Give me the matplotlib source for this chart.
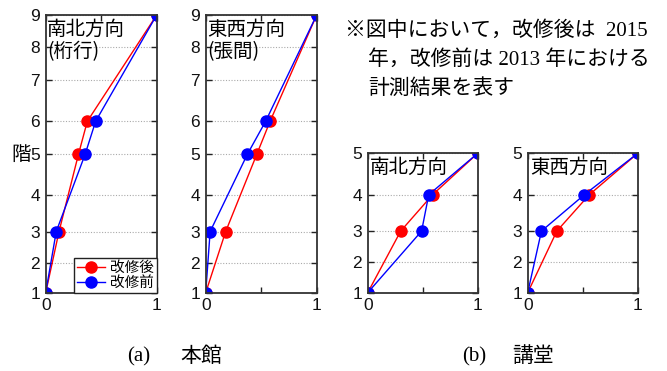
import matplotlib
matplotlib.use("Agg")
import matplotlib.pyplot as plt
from matplotlib.ticker import FixedLocator, FixedFormatter

plt.rcParams['font.family'] = ['Liberation Sans', 'Noto Sans CJK JP']

# Floor levels (m above 1F) of each building
main_floor_labels = ['1', '2', '3', '4', '5', '6', '7', '8', '9']
main_floor_height = [0.0, 3.0, 6.1, 9.7, 13.8, 17.1, 21.2, 24.5, 27.7]
hall_floor_labels = ['1', '2', '3', '4', '5']
hall_floor_height = [0.0, 3.0, 6.1, 9.7, 13.8]

# Normalised mode shapes: 本館 (measured at floors 1, 3, 5, 6, 9)
main_floors = [1, 3, 5, 6, 9]
main_ns_after = [0.0, 0.12, 0.295, 0.375, 1.0]
main_ns_before = [0.0, 0.095, 0.355, 0.45, 1.0]
main_ew_after = [0.0, 0.18, 0.46, 0.58, 1.0]
main_ew_before = [0.0, 0.04, 0.375, 0.54, 1.0]

# 講堂 (measured at floors 1, 3, 4, 5)
hall_floors = [1, 3, 4, 5]
hall_ns_after = [0.0, 0.30, 0.59, 1.0]
hall_ns_before = [0.0, 0.49, 0.555, 1.0]
hall_ew_after = [0.0, 0.265, 0.56, 1.0]
hall_ew_before = [0.0, 0.125, 0.515, 1.0]

label_after = '改修後'
label_before = '改修前'
cjk = ['Noto Sans CJK JP']
serif_cjk = ['Liberation Serif', 'Noto Sans CJK JP']

W, H = 667, 371
fig = plt.figure(figsize=(W / 100, H / 100), dpi=100)


def px_axes(x0, y_top, y_bot, w=111):
    return fig.add_axes([x0 / W, 1 - y_bot / H, w / W, (y_bot - y_top) / H])


def style(ax, heights, labels):
    ax.set_xlim(0, 1)
    ax.set_ylim(heights[0], heights[-1])
    ax.xaxis.set_major_locator(FixedLocator([0, 0.5, 1]))
    ax.xaxis.set_major_formatter(FixedFormatter(['0', '', '1']))
    ax.yaxis.set_major_locator(FixedLocator(heights))
    ax.yaxis.set_major_formatter(FixedFormatter(labels))
    ax.tick_params(direction='in', length=4, width=1, colors='#222222',
                   top=True, right=True, labelsize=12.5, pad=4)
    ax.tick_params(labelcolor='#111111')
    ax.grid(axis='y', linestyle=(0, (1, 1.5)), color='#aaaaaa', linewidth=0.8)
    for s in ax.spines.values():
        s.set_color('#333333')
        s.set_linewidth(1.3)


def draw(ax, floors, heights, after, before):
    y = [heights[f - 1] for f in floors]
    ax.plot(after, y, '-o', color='#ff0000', lw=1.0, ms=8, label=label_after)
    ax.plot(before, y, '-o', color='#0000ff', lw=1.0, ms=8, label=label_before)


ax1 = px_axes(45.7, 15, 292.7)
ax2 = px_axes(205.7, 15, 292.7)
ax3 = px_axes(367.7, 153.3, 292.7, 110)
ax4 = px_axes(527.7, 153.3, 292.7, 110)

draw(ax1, main_floors, main_floor_height, main_ns_after, main_ns_before)
draw(ax2, main_floors, main_floor_height, main_ew_after, main_ew_before)
draw(ax3, hall_floors, hall_floor_height, hall_ns_after, hall_ns_before)
draw(ax4, hall_floors, hall_floor_height, hall_ew_after, hall_ew_before)

for ax, hts, lbs in [(ax1, main_floor_height, main_floor_labels),
                     (ax2, main_floor_height, main_floor_labels),
                     (ax3, hall_floor_height, hall_floor_labels),
                     (ax4, hall_floor_height, hall_floor_labels)]:
    style(ax, hts, lbs)

# direction titles inside each panel
ax1.text(0.01, 0.985, '南北方向', transform=ax1.transAxes, ha='left', va='top',
         fontsize=14, family=cjk)
ax1.text(0.01, 0.905, '(桁行)', transform=ax1.transAxes, ha='left', va='top',
         fontsize=14, family=cjk)
ax2.text(0.01, 0.985, '東西方向', transform=ax2.transAxes, ha='left', va='top',
         fontsize=14, family=cjk)
ax2.text(0.01, 0.905, '(張間)', transform=ax2.transAxes, ha='left', va='top',
         fontsize=14, family=cjk)
ax3.text(0.02, 0.975, '南北方向', transform=ax3.transAxes, ha='left', va='top',
         fontsize=14, family=cjk)
ax4.text(0.02, 0.975, '東西方向', transform=ax4.transAxes, ha='left', va='top',
         fontsize=14, family=cjk)

leg = ax1.legend(loc='lower right', bbox_to_anchor=(1, 0), borderaxespad=0,
                 prop={'family': cjk, 'size': 10.5}, fancybox=False,
                 edgecolor='#222222', framealpha=1, handlelength=1.9,
                 handletextpad=0.35, borderpad=0.2, labelspacing=0.05)
leg.get_frame().set_linewidth(1.0)

# floor axis label
fig.text(21 / W, 1 - 154 / H, '階', ha='center', va='center', fontsize=14,
         family=cjk)

# note
fig.text(345 / W, 1 - 31 / H, '※図中において，改修後は  2015', ha='left',
         va='center', fontsize=15, family=serif_cjk)
fig.text(368 / W, 1 - 60 / H, '年，改修前は 2013 年における', ha='left',
         va='center', fontsize=15, family=serif_cjk)
fig.text(368 / W, 1 - 89 / H, '計測結果を表す', ha='left',
         va='center', fontsize=15, family=serif_cjk)

# sub-captions
fig.text(127 / W, 1 - 357 / H, '(a)', ha='left', va='center', fontsize=15,
         family=serif_cjk)
fig.text(180 / W, 1 - 357 / H, '本館', ha='left', va='center', fontsize=15,
         family=serif_cjk)
fig.text(462 / W, 1 - 357 / H, '(b)', ha='left', va='center', fontsize=15,
         family=serif_cjk)
fig.text(512 / W, 1 - 357 / H, '講堂', ha='left', va='center', fontsize=15,
         family=serif_cjk)

fig.savefig('out.png', dpi=100, facecolor='white')
